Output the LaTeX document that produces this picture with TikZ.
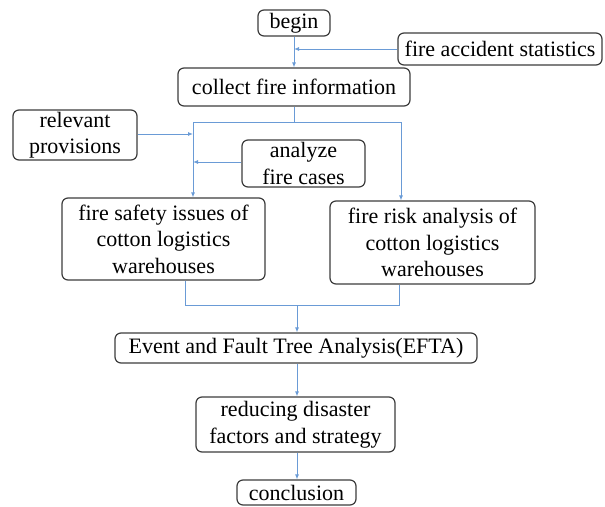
\documentclass[tikz,border=0pt]{standalone}
\usepackage{fontspec}
\setmainfont{Liberation Serif}
\usetikzlibrary{arrows.meta}
\definecolor{boxline}{HTML}{3C3C3C}
\definecolor{arrowblue}{HTML}{6A9BD6}
\tikzset{
  box/.style={draw=boxline, line width=1.2pt, rounded corners=6pt, fill=white,
    align=center, inner sep=0pt, text=black,
    font=\fontsize{22}{26.5}\selectfont},
  conn/.style={draw=arrowblue, line width=0.9pt},
  arr/.style={conn, -{Latex[length=5pt,width=4pt]}}
}
\begin{document}
\begin{tikzpicture}[x=1pt,y=-1pt]
\useasboundingbox (0,0) rectangle (605,506);
\node[box, minimum width=72pt, minimum height=26pt] (begin) at (294,23) {begin};
\node[box, minimum width=204pt, minimum height=32pt] (fas) at (500,49) {fire accident statistics};
\node[box, minimum width=232pt, minimum height=38pt] (collect) at (294,87) {collect fire information};
\node[box, minimum width=124pt, minimum height=50pt] (rel) at (75,135) {relevant\\provisions};
\node[box, minimum width=123pt, minimum height=47pt] (ana) at (303.5,163.5) {analyze\\fire cases};
\node[box, minimum width=203pt, minimum height=82pt] (safety) at (163.5,239) {fire safety issues of\\cotton logistics\\warehouses};
\node[box, minimum width=205pt, minimum height=83pt] (risk) at (432.5,242.5) {fire risk analysis of\\cotton logistics\\warehouses};
\node[box, minimum width=362pt, minimum height=30pt] (efta) at (296,348) {Event and Fault Tree Analysis(EFTA)};
\node[box, minimum width=199pt, minimum height=55pt] (red) at (295.5,424.5) {reducing disaster\\factors and strategy};
\node[box, minimum width=119pt, minimum height=25pt] (conc) at (296.5,492.5) {conclusion};

\coordinate (fasin) at (294,49);
\coordinate (split) at (294,122);
\coordinate (sl) at (193,122);
\coordinate (sr) at (401,122);
\coordinate (merge) at (297,305);

\draw[arr] (begin.south) -- (collect.north);
\draw[arr] (fas.west) -- (fasin);
\draw[conn] (collect.south) -- (split);
\draw[conn] (sl) -- (sr);
\draw[arr] (sl) -- (sl |- safety.north);
\draw[arr] (sr) -- (sr |- risk.north);
\draw[arr] (rel.east |- 0,134) -- (193,134);
\draw[arr] (ana.west |- 0,162) -- (193,162);
\draw[conn] (safety.south -| 185,0) -- (185,305) -- (399,305) -- (risk.south -| 399,0);
\draw[arr] (merge) -- (merge |- efta.north);
\draw[arr] (efta.south -| 297,0) -- (red.north -| 297,0);
\draw[arr] (red.south -| 297,0) -- (conc.north -| 297,0);
\end{tikzpicture}
\end{document}
